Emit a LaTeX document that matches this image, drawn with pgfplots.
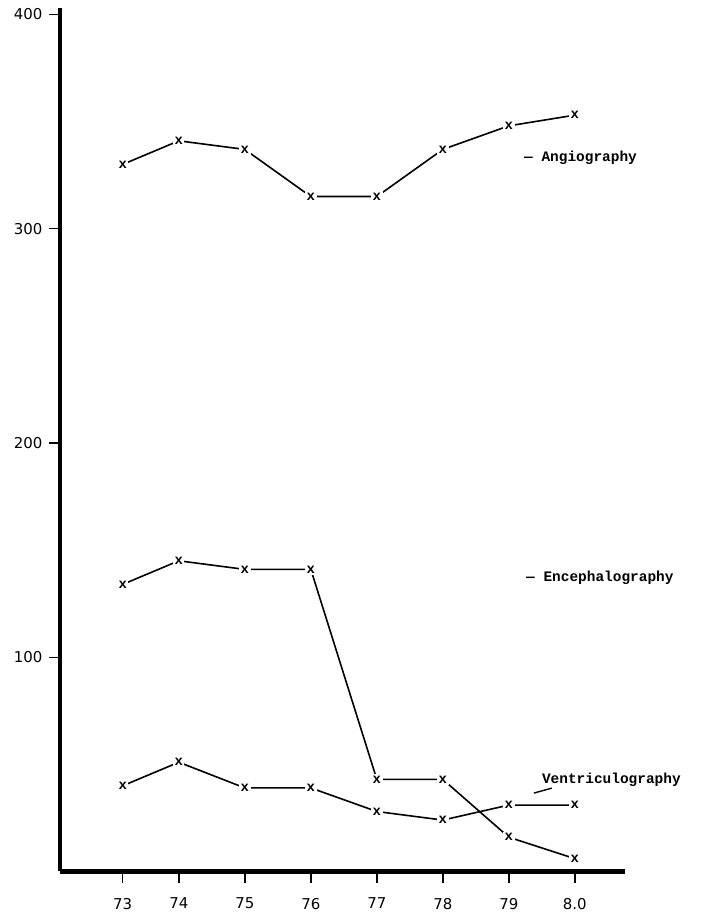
\documentclass[border=0pt]{standalone}
\usepackage{pgfplots}
\pgfplotsset{compat=1.18}
\usepackage{pgfplotstable}
\usepackage{fontspec}
\setmainfont{DejaVu Sans}
\newfontfamily\mono{Liberation Mono}
\newcommand\tickfont{\fontsize{15}{16}\selectfont}

% Yearly counts of examinations (year positions on the hand-drawn axis)
\pgfplotstableread{
x y
73.15 330
74 341
75 337
76 315
77 315
78 337
79 348
80 353
}\angio
\pgfplotstableread{
x y
73.15 134
74 145
75 141
76 141
77 43
78 43
79 16
80 6
}\enceph
\pgfplotstableread{
x y
73.15 40
74 51
75 39
76 39
77 28
78 24
79 31
80 31
}\ventri

% typewritten "x" as point mark, on a small white patch so lines stop short of it
\pgfdeclareplotmark{typex}{%
  \node[fill=white, draw=none, inner sep=1.5bp, text=black,
        font=\mono\bfseries\fontsize{14}{14}\selectfont] {x};}

\pgfplotsset{
  typeline/.style={black, line width=1.6bp, mark=typex},
}
\tikzset{
  serieslabel/.style={anchor=west, font=\mono\bfseries\fontsize{14.5}{15}\selectfont},
}

\begin{document}
\begin{tikzpicture}
\path[use as bounding box] (0,0) rectangle (702bp,922bp);
\begin{axis}[
  at={(60bp,50.5bp)}, anchor=south west,
  scale only axis, width=565bp, height=863.5bp,
  xmin=72.2, xmax=80.76, ymin=0, ymax=403,
  axis lines*=left,
  axis line style={line width=4bp},
  x axis line style={-}, y axis line style={-},
  tick align=outside,
  major tick length=11bp,
  every tick/.style={black, line width=1.4bp},
  xtick={73.15,74,75,76,77,78,79,80},
  xticklabels={73,74,75,76,77,78,79,8.0},
  ytick={100,200,300,400},
  xticklabel style={font=\tickfont, yshift=-12bp},
  yticklabel style={font=\tickfont, xshift=-3bp},
  /pgf/number format/assume math mode=true,
  clip=false,
]
\addplot[typeline] table[x=x,y=y] {\angio};
\addplot[typeline] table[x=x,y=y] {\enceph};
\addplot[typeline] table[x=x,y=y] {\ventri};

\node[serieslabel] at (axis cs:79.18,333) {— Angiography};
\node[serieslabel] at (axis cs:79.21,137) {— Encephalography};
\node[serieslabel] at (axis cs:79.45,43) {Ventriculography};
\draw[line width=1.4bp] (axis cs:79.38,36.6) -- (axis cs:79.65,38.9);
\end{axis}
\end{tikzpicture}
\end{document}
